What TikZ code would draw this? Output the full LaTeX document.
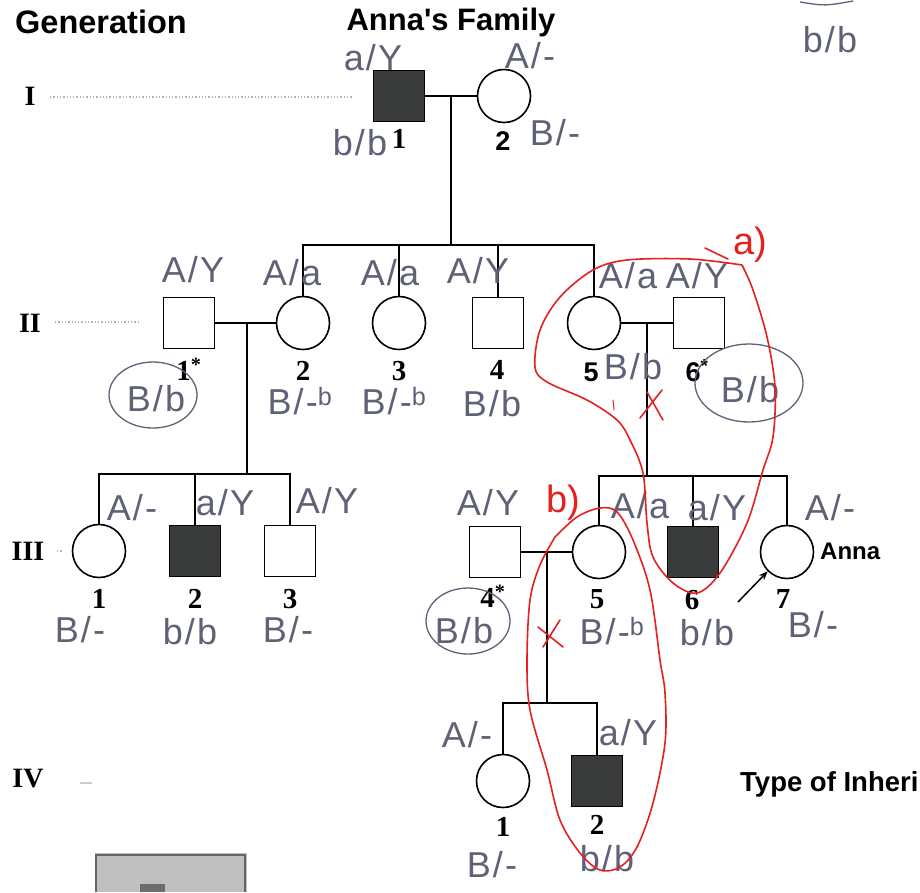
\documentclass[tikz,border=0pt]{standalone}
\usepackage{fontspec}
\setmainfont{Liberation Serif}
\newfontfamily\arial{Liberation Sans}
\newfontfamily\hwfont[LetterSpace=6]{Liberation Sans}
\usetikzlibrary{arrows.meta}
\definecolor{hw}{RGB}{95,97,118}
\definecolor{pen}{RGB}{228,32,32}
\definecolor{affected}{RGB}{58,60,60}
\begin{document}
\begin{tikzpicture}[x=1pt,y=-1pt,
 male/.style={draw, rectangle, minimum size=51pt, inner sep=0pt, line width=1.6pt},
 female/.style={draw, circle, minimum size=53pt, inner sep=0pt, line width=1.6pt},
 aff/.style={fill=affected},
 link/.style={line width=1.8pt},
 num/.style={font=\fontsize{29}{29}\selectfont\bfseries, inner sep=0pt},
 numsf/.style={font=\fontsize{27}{27}\selectfont\arial\bfseries, inner sep=0pt},
 gen/.style={font=\fontsize{28}{28}\selectfont\bfseries, inner sep=0pt},
 title/.style={font=\fontsize{31}{31}\selectfont\arial\bfseries, inner sep=0pt},
 hand/.style={font=\fontsize{36}{36}\selectfont\hwfont, text=hw, inner sep=0pt},
 redtext/.style={font=\fontsize{38}{38}\selectfont\arial, text=pen, inner sep=0pt},
 ring/.style={draw=hw, line width=1.3pt},
 redpen/.style={draw=pen, line width=1.6pt, line cap=round, line join=round},
 guide/.style={draw=gray!60, dotted, line width=1.3pt}
]
\useasboundingbox (0,0) rectangle (920,892);
\fill[white] (0,0) rectangle (920,892);

% ---- titles ----
\node[title, anchor=west, font=\fontsize{32.5}{32.5}\selectfont\arial\bfseries] (tgen) at (15,22) {Generation};
\node[title] (tfam) at (451,22) {Anna's Family};
\node[title, anchor=west, font=\fontsize{27.5}{27.5}\selectfont\arial\bfseries] (ttype) at (740,784) {Type of Inheri};

% ---- generation numerals ----
\node[gen] (gI) at (30,96) {I};
\node[gen] (gII) at (30,323) {II};
\node[gen] (gIII) at (28,551) {III};
\node[gen] (gIV) at (28,779) {IV};
\coordinate (dI1) at (50,97); \coordinate (dI2) at (352,97);
\draw[guide] (dI1) -- (dI2);
\coordinate (dII1) at (55,322); \coordinate (dII2) at (138,322);
\draw[guide] (dII1) -- (dII2);
\coordinate (dIII1) at (57,551); \coordinate (dIII2) at (63,551);
\draw[guide] (dIII1) -- (dIII2);
\coordinate (dIV1) at (80,783); \coordinate (dIV2) at (92,783);
\draw[draw=gray!40, line width=1.2pt] (dIV1) -- (dIV2);

% ---- generation I ----
\node[male, aff] (I1) at (399,96) {};
\node[female] (I2) at (504,96) {};
\draw[link] (I1) -- (I2);
\coordinate (mI) at (451,96);
\coordinate (sII) at (451,245);
\draw[link] (mI) -- (sII);
\node[num] (nI1) at (399,139) {1};
\node[numsf] (nI2) at (503,141) {2};

% ---- generation II ----
\node[male] (II1) at (189,323) {};
\node[female] (II2) at (303,323) {};
\node[female] (II3) at (399,323) {};
\node[male] (II4) at (498,323) {};
\node[female] (II5) at (594,323) {};
\node[male] (II6) at (699,323) {};
\draw[link] (II2.north) -- (II2.north |- sII) -- (II5.north |- sII) -- (II5.north);
\draw[link] (II3.north) -- (II3.north |- sII);
\draw[link] (II4.north) -- (II4.north |- sII);
\draw[link] (II1) -- (II2);
\draw[link] (II5) -- (II6);
\coordinate (m12) at (247,323); \coordinate (s12) at (247,474);
\draw[link] (m12) -- (s12);
\coordinate (m56) at (647,323); \coordinate (s56) at (647,476);
\draw[link] (m56) -- (s56);
\node[num] (nII1) at (189,369) {1\textsuperscript{*}};
\node[num] (nII2) at (303,371) {2};
\node[num] (nII3) at (399,371) {3};
\node[num] (nII4) at (497,370) {4};
\node[numsf] (nII5) at (591,372) {5};
\node[numsf] (nII6) at (697,371) {6\textsuperscript{*}};

% ---- generation III ----
\node[female] (III1) at (99,551) {};
\node[male, aff] (III2) at (195,551) {};
\node[male] (III3) at (290,551) {};
\node[male] (III4) at (495,552) {};
\node[female] (III5) at (599,552) {};
\node[male, aff] (III6) at (693,552) {};
\node[female] (III7) at (787,552) {};
\draw[link] (III1.north) -- (III1.north |- s12) -- (III3.north |- s12) -- (III3.north);
\draw[link] (III2.north) -- (III2.north |- s12);
\draw[link] (III5.north) -- (III5.north |- s56) -- (III7.north |- s56) -- (III7.north);
\draw[link] (III6.north) -- (III6.north |- s56);
\draw[link] (III4) -- (III5);
\coordinate (m45) at (547,552); \coordinate (s45) at (547,703);
\draw[link] (m45) -- (s45);
\node[num] (nIII1) at (99,599) {1};
\node[num] (nIII2) at (195,599) {2};
\node[num] (nIII3) at (290,599) {3};
\node[num] (nIII4) at (493,596) {4\textsuperscript{*}};
\node[num] (nIII5) at (597,599) {5};
\node[num] (nIII6) at (692,600) {6};
\node[num] (nIII7) at (783,599) {7};
\node[font=\fontsize{24}{24}\selectfont\arial\bfseries, anchor=west, inner sep=0pt] (anna) at (820,551) {Anna};
\coordinate (arrS) at (738,602);
\draw[line width=1.5pt, -{Stealth[length=9pt,width=7pt]}] (arrS) -- (III7.south west);

% ---- generation IV ----
\node[female] (IV1) at (503,781) {};
\node[male, aff] (IV2) at (597,781) {};
\draw[link] (IV1.north) -- (IV1.north |- s45) -- (IV2.north |- s45) -- (IV2.north);
\node[num] (nIV1) at (503,827) {1};
\node[num] (nIV2) at (597,825) {2};

% ---- legend fragment ----
\fill[gray!50] (95,853) rectangle (247,892);
\draw[gray!80!black, line width=2pt] (96,892) -- (96,855) -- (245,855) -- (245,892);
\fill[gray!85!black] (140,884) rectangle (165,892);

% ---- handwritten genotypes ----
\node[hand] (hI1a) at (373,58) {a/Y};
\node[hand] (hI1b) at (360,143) {b/b};
\node[hand] (hI2a) at (530,56) {A/-};
\node[hand] (hI2b) at (555,133) {B/-};
\node[hand] (htr) at (830,40) {b/b};
\draw[draw=hw, line width=1.3pt] (800,2) .. controls (825,6) .. (853,1);

\node[hand] (hII1a) at (193,270) {A/Y};
\node[hand] (hII2a) at (292,273) {A/a};
\node[hand] (hII3a) at (390,273) {A/a};
\node[hand] (hII4a) at (478,271) {A/Y};
\node[hand] (hII5a) at (628,276) {A/a};
\node[hand] (hII6a) at (697,276) {A/Y};
\node[hand] (hII1b) at (156,399) {B/b};
\draw[ring] (153,395) ellipse [x radius=44pt, y radius=33pt];
\node[hand] (hII2b) at (300,401) {B/-\textsuperscript{b}};
\node[hand] (hII3b) at (394,401) {B/-\textsuperscript{b}};
\node[hand] (hII4b) at (492,404) {B/b};
\node[hand] (hII5b) at (633,367) {B/b};
\node[hand] (hII6b) at (750,390) {B/b};
\draw[ring] (749,383) ellipse [x radius=54pt, y radius=39pt];

\node[hand] (hIII1a) at (132,508) {A/-};
\node[hand] (hIII2a) at (225,503) {a/Y};
\node[hand] (hIII3a) at (327,501) {A/Y};
\node[hand] (hIII4a) at (488,503) {A/Y};
\node[hand] (hIII5a) at (640,506) {A/a};
\node[hand] (hIII6a) at (717,508) {a/Y};
\node[hand] (hIII7a) at (830,508) {A/-};
\node[hand] (hIII1b) at (80,630) {B/-};
\node[hand] (hIII2b) at (190,632) {b/b};
\node[hand] (hIII3b) at (288,630) {B/-};
\node[hand] (hIII4b) at (464,631) {B/b};
\draw[ring] (468,621) ellipse [x radius=42pt, y radius=33pt];
\node[hand] (hIII5b) at (612,631) {B/-\textsuperscript{b}};
\node[hand] (hIII6b) at (707,633) {b/b};
\node[hand] (hIII7b) at (813,625) {B/-};

\node[hand] (hIV1a) at (467,735) {A/-};
\node[hand] (hIV2a) at (628,733) {a/Y};
\node[hand] (hIV1b) at (492,865) {B/-};
\node[hand] (hIV2b) at (607,859) {b/b};

% ---- red annotations ----
\node[redtext] (ra) at (750,245) {a)};
\node[redtext] (rb) at (563,503) {b)};
\draw[redpen] plot[smooth, tension=0.55] coordinates {(742,265) (690,259) (627,260) (593,270) (560,297) (540,330) (535,367) (547,382) (587,400) (617,420) (630,440) (643,473) (647,523) (653,557) (673,583) (697,593) (720,573) (747,523) (763,470) (773,437) (775,387) (767,337) (753,290) (742,265)};
\draw[redpen] (705,248) -- (728,259);
\draw[redpen] plot[smooth, tension=0.55] coordinates {(555,537) (577,517) (600,508) (617,512) (633,540) (650,590) (660,660) (665,693) (665,743) (653,803) (637,847) (620,867) (600,870) (580,853) (560,820) (547,770) (530,710) (527,660) (530,600) (540,565) (555,537)};
\draw[redpen] (640,418) -- (662,390);
\draw[redpen] (647,392) -- (663,420);
\draw[redpen] (538,627) -- (563,647);
\draw[redpen] (560,620) -- (543,647);
\draw[redpen, line width=1pt] (613,400) -- (614,410);
\end{tikzpicture}
\end{document}
